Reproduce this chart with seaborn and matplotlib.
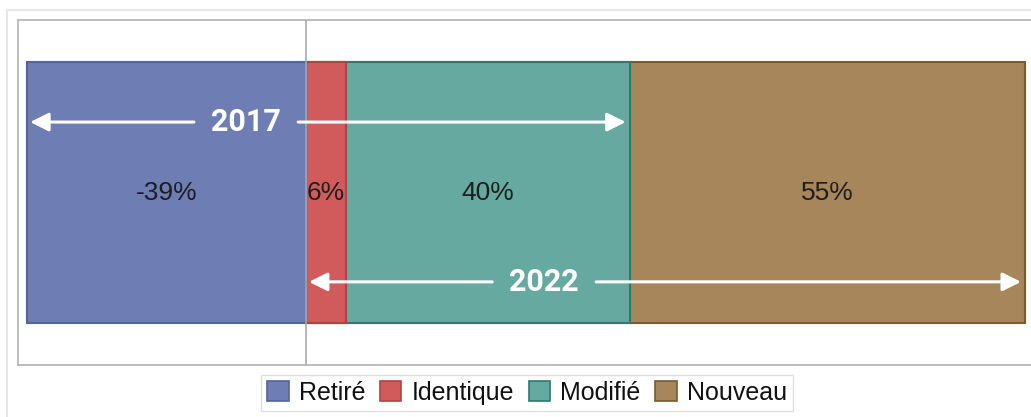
import matplotlib
matplotlib.use("Agg")
import matplotlib.pyplot as plt
import matplotlib.patches as mpatches
import pandas as pd
import seaborn as sns

# data
categories = ["Retiré", "Identique", "Modifié", "Nouveau"]
values = [-39, 5.6, 39.7, 55.3]
bar_labels = ["-39%", "6%", "40%", "55%"]
colors = ["#6E7EB4", "#D15A5A", "#66A9A0", "#A8865B"]
edges = ["#53639C", "#B04444", "#2A7A6D", "#7A5A32"]
years = ["2017", "2022"]
year_text_x = [-8.4, 33.3]

sns.set_theme(style="white")
plt.rcParams["font.family"] = ["Liberation Sans", "DejaVu Sans"]

# segment extents: negative one left of 0, positives stacked to the right
starts, ends = [values[0]], [0]
cum = 0
for v in values[1:]:
    starts.append(cum)
    cum += v
    ends.append(cum)
df = pd.DataFrame({"cat": categories, "start": starts, "end": ends})

fig = plt.figure(figsize=(10.31, 4.17), dpi=100)
ax = fig.add_axes([18 / 1031, 52 / 417, (1045 - 18) / 1031, 345 / 417])

# outer light frame
fig.patches.append(mpatches.Rectangle((7 / 1031, -0.05), 1.1, (407 / 417) + 0.05,
                                      transform=fig.transFigure, fill=False,
                                      edgecolor="#e2e2e2", lw=1.2, zorder=0))

# positives drawn as overlapping cumulative bars, largest first
for i in [3, 2, 1]:
    sns.barplot(x=[df["end"][i]], y=["r"], orient="h", ax=ax, width=0.8,
                color=colors[i], saturation=1, edgecolor=edges[i], linewidth=1.5)
sns.barplot(x=[df["start"][0]], y=["r"], orient="h", ax=ax, width=0.8,
            color=colors[0], saturation=1, edgecolor=edges[0], linewidth=1.5)

ax.axvline(0, color="#a9a9a9", lw=1.2, zorder=5)

# segment labels
for i in range(4):
    ax.text((df["start"][i] + df["end"][i]) / 2, 0, bar_labels[i], ha="center",
            va="center", fontsize=19, color="#1e1e1e", zorder=6)

# year arrows
spans = [(df["start"][0], df["end"][2]), (0, df["end"][3])]
ys = [0.216, -0.274]
for yr, tx, (a, b), yy in zip(years, year_text_x, spans, ys):
    for k, end in enumerate([a + 0.4, b - 0.6]):
        ax.annotate(yr, xy=(end, yy), xytext=(tx, yy), ha="center", va="center",
                    fontsize=22, fontweight="bold", family=["Roboto", "DejaVu Sans"],
                    color="white" if k == 0 else "none", zorder=7,
                    arrowprops=dict(arrowstyle="-|>", color="white", lw=2.2,
                                    mutation_scale=28, shrinkA=10, shrinkB=0))

ax.set_xlim(-40.3, (1045 - 306) / 7.15)
ax.set_ylim(-0.529, 0.529)
ax.set_xticks([])
ax.set_yticks([])
ax.set_xlabel("")
ax.set_ylabel("")
for s in ["left", "top", "bottom"]:
    ax.spines[s].set_color("#b8b8b8")
    ax.spines[s].set_linewidth(1.3)
ax.spines["right"].set_visible(False)

handles = [mpatches.Patch(facecolor=c, edgecolor=e, lw=1.2, label=l)
           for c, e, l in zip(colors, edges, categories)]
leg = fig.legend(handles=handles, loc="center", bbox_to_anchor=(527 / 1031, 24 / 417),
                 ncol=4, fontsize=18, frameon=True, fancybox=False, edgecolor="#d6d6d6",
                 handlelength=0.85, handleheight=0.85, handletextpad=0.4,
                 columnspacing=0.6, borderpad=0.25, borderaxespad=0)
for t in leg.get_texts():
    t.set_color("#111111")

fig.savefig("out.png", dpi=100)
